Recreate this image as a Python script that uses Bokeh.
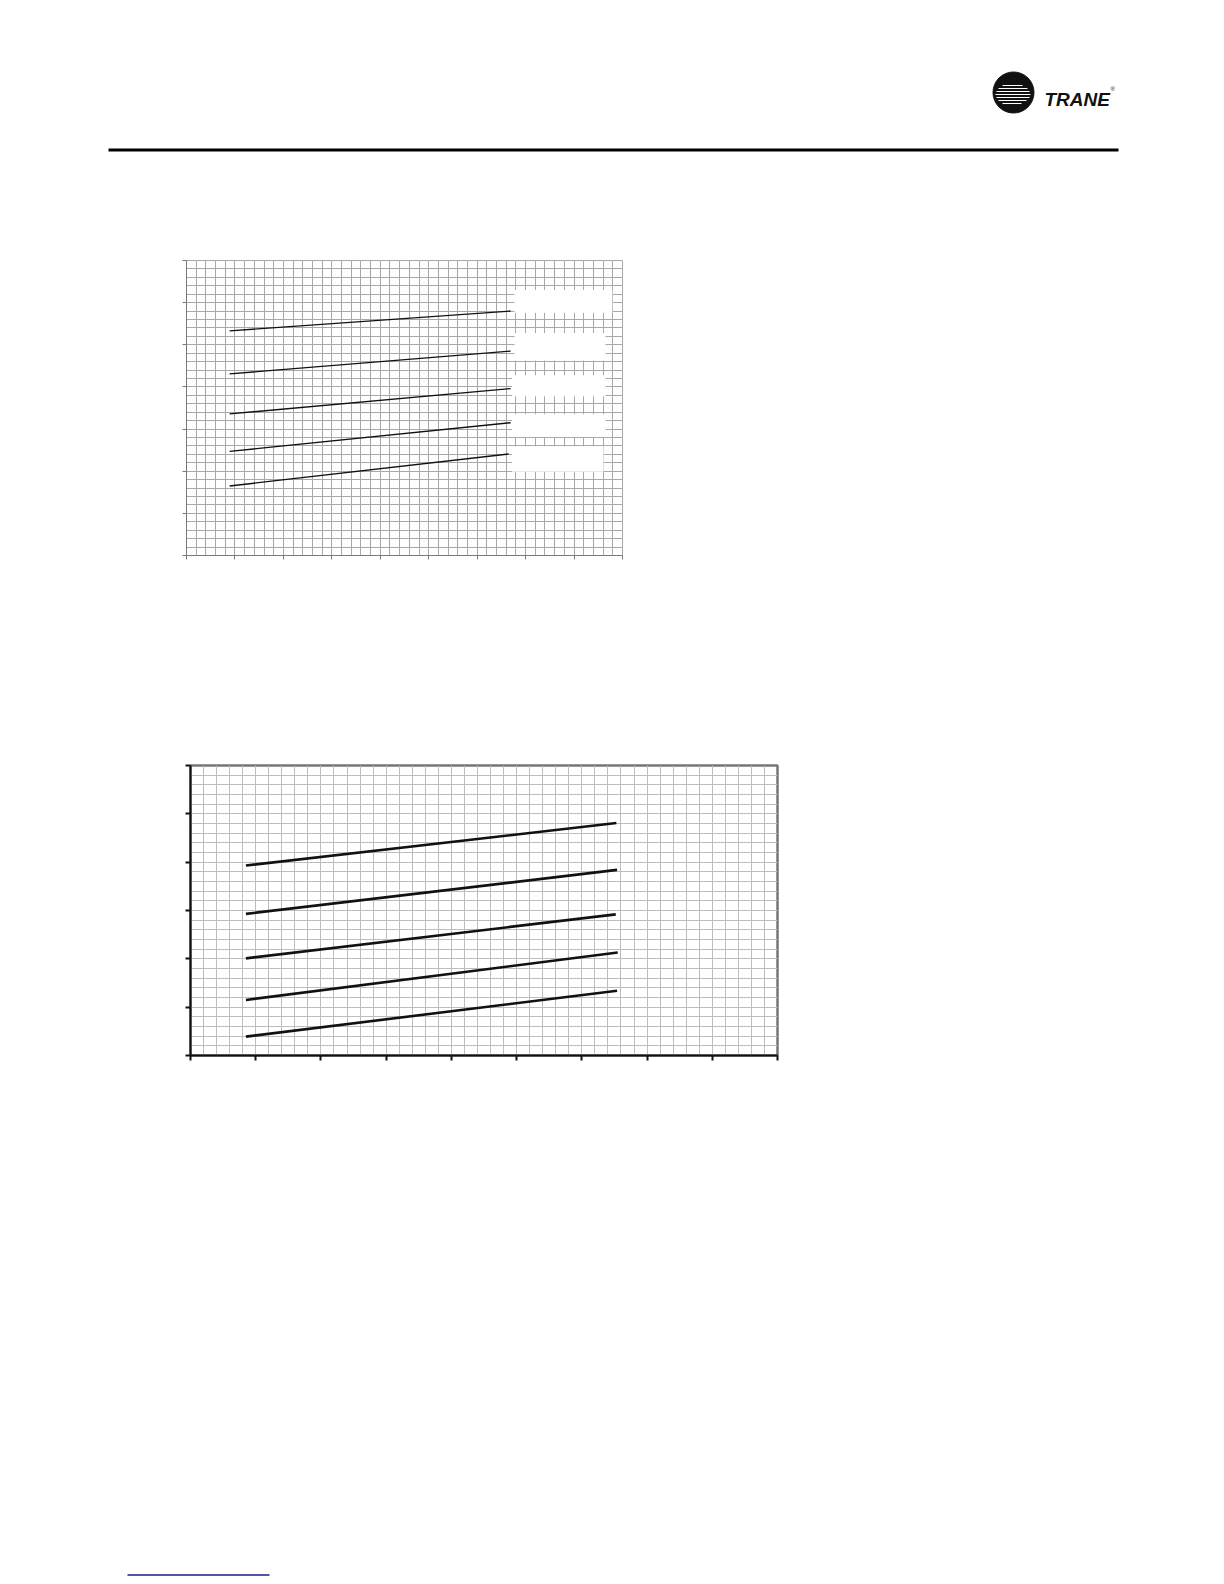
from bokeh.plotting import figure
from bokeh.layouts import column, row
from bokeh.models import Range1d, SingleIntervalTicker, Spacer, CustomJSTickFormatter
from bokeh.core.properties import value
from bokeh.embed import file_html
from bokeh.resources import INLINE

# ---------------- data ----------------
# Chart 1 (upper, thin lines), axes 0..90 x 0..70
c1_x0 = [8.9, 8.9, 8.9, 8.9, 8.9]
c1_x1 = [66.9, 66.9, 66.9, 66.9, 66.5]
c1_y0 = [53.3, 43.1, 33.6, 24.7, 16.5]
c1_y1 = [58.0, 48.5, 39.6, 31.5, 24.1]
# blank label boxes at right of chart 1 (text removed in reference)
c1_box_left = [67.7, 67.7, 67.2, 67.2, 67.2]
c1_box_right = [87.9, 86.5, 86.5, 86.5, 86.1]
c1_box_bottom = [57.6, 46.3, 37.8, 28.1, 19.9]
c1_box_top = [63.0, 52.8, 42.8, 33.5, 25.9]

# Chart 2 (lower, thick lines), axes 0..90 x 0..60
c2_x0 = [8.5, 8.5, 8.5, 8.5, 8.5]
c2_x1 = [65.3, 65.4, 65.2, 65.5, 65.4]
c2_y0 = [39.3, 29.3, 20.1, 11.5, 3.9]
c2_y1 = [48.1, 38.4, 29.2, 21.3, 13.4]

c1_xmax, c1_ymax = 90, 70
c2_xmax, c2_ymax = 90, 60
major_step = 10
minor_per_major = 5

empty_fmt = CustomJSTickFormatter(code="return ''")


def grid_chart(width, height, xmax, ymax, grid_color, axis_color, axis_w,
               tick_out, outline_color, outline_w):
    p = figure(width=width, height=height, output_backend="svg",
               toolbar_location=None, x_range=Range1d(0, xmax),
               y_range=Range1d(0, ymax), min_border_left=20,
               min_border_right=10, min_border_top=10, min_border_bottom=20,
               background_fill_color="white", border_fill_color="white")
    for ax in (p.xaxis[0], p.yaxis[0]):
        ax.ticker = SingleIntervalTicker(interval=major_step,
                                         num_minor_ticks=minor_per_major)
        ax.formatter = empty_fmt
        ax.major_label_text_font_size = "0px"
        ax.axis_line_color = axis_color
        ax.axis_line_width = axis_w
        ax.major_tick_line_color = axis_color
        ax.major_tick_line_width = axis_w
        ax.major_tick_out = tick_out
        ax.major_tick_in = 0
        ax.minor_tick_out = 0
        ax.minor_tick_in = 0
    p.grid.grid_line_color = grid_color
    p.grid.grid_line_width = 1
    p.grid.minor_grid_line_color = grid_color
    p.grid.minor_grid_line_width = 1
    p.outline_line_color = outline_color
    p.outline_line_width = outline_w
    return p


# ---------------- header ----------------
PAGE_W = 1200
hdr = figure(width=PAGE_W, height=242, output_backend="svg",
             toolbar_location=None, x_range=Range1d(8, 8 + PAGE_W),
             y_range=Range1d(250, 8), min_border=0,
             x_axis_location=None, y_axis_location=None)
hdr.grid.visible = False
hdr.outline_line_color = None
hdr.segment(x0=[108], y0=[149.5], x1=[1118], y1=[149.5],
            line_color="black", line_width=3)
hdr.scatter(x=[1013], y=[92], size=41, marker="circle",
            fill_color="#111111", line_color="#111111")
stripe_y = [85, 88, 91, 94, 97, 100, 103]
stripe_x0 = [1002, 998, 996, 995, 996, 998, 1002]
stripe_x1 = [1022, 1027, 1029, 1030, 1029, 1026, 1021]
hdr.segment(x0=stripe_x0, y0=stripe_y, x1=stripe_x1, y1=stripe_y,
            line_color="white", line_width=1.2)
hdr.text(x=[1044], y=[99], text=["TRANE"], text_font=value("Liberation Sans"),
         text_font_style="bold italic", text_font_size="19px",
         text_color="#111111", text_baseline="alphabetic")
hdr.text(x=[1110], y=[88], text=["®"], text_font=value("Liberation Sans"),
         text_font_size="6px", text_color="#111111", text_baseline="alphabetic")

# ---------------- chart 1 ----------------
p1 = grid_chart(466, 325, c1_xmax, c1_ymax, "#a8a8a8", "#7a7a7a", 1, 4,
                "#a8a8a8", 1)
p1.quad(left=c1_box_left, right=c1_box_right, bottom=c1_box_bottom,
        top=c1_box_top, fill_color="white", line_color=None)
p1.multi_line(xs=[[a, b] for a, b in zip(c1_x0, c1_x1)],
              ys=[[a, b] for a, b in zip(c1_y0, c1_y1)],
              line_color="#111111", line_width=1.4)

# ---------------- chart 2 ----------------
p2 = grid_chart(617, 320, c2_xmax, c2_ymax, "#bdbdbd", "#111111", 2, 5,
                "#767676", 2.5)
p2.multi_line(xs=[[a, b] for a, b in zip(c2_x0, c2_x1)],
              ys=[[a, b] for a, b in zip(c2_y0, c2_y1)],
              line_color="#111111", line_width=2.6)

# ---------------- footer ----------------
ftr = figure(width=PAGE_W, height=501, output_backend="svg",
             toolbar_location=None, x_range=Range1d(8, 8 + PAGE_W),
             y_range=Range1d(1576, 1075), min_border=0,
             x_axis_location=None, y_axis_location=None)
ftr.grid.visible = False
ftr.outline_line_color = None
ftr.segment(x0=[127], y0=[1574.5], x1=[269], y1=[1574.5],
            line_color="#1c1c8a", line_width=1.5)

content = column(
    hdr,
    row(Spacer(width=158, height=325), p1),
    Spacer(width=10, height=180),
    row(Spacer(width=162, height=320), p2),
    ftr,
)
layout = row(Spacer(width=8, height=10), column(Spacer(width=10, height=8), content))

open("out.html", "w").write(file_html(layout, INLINE))
